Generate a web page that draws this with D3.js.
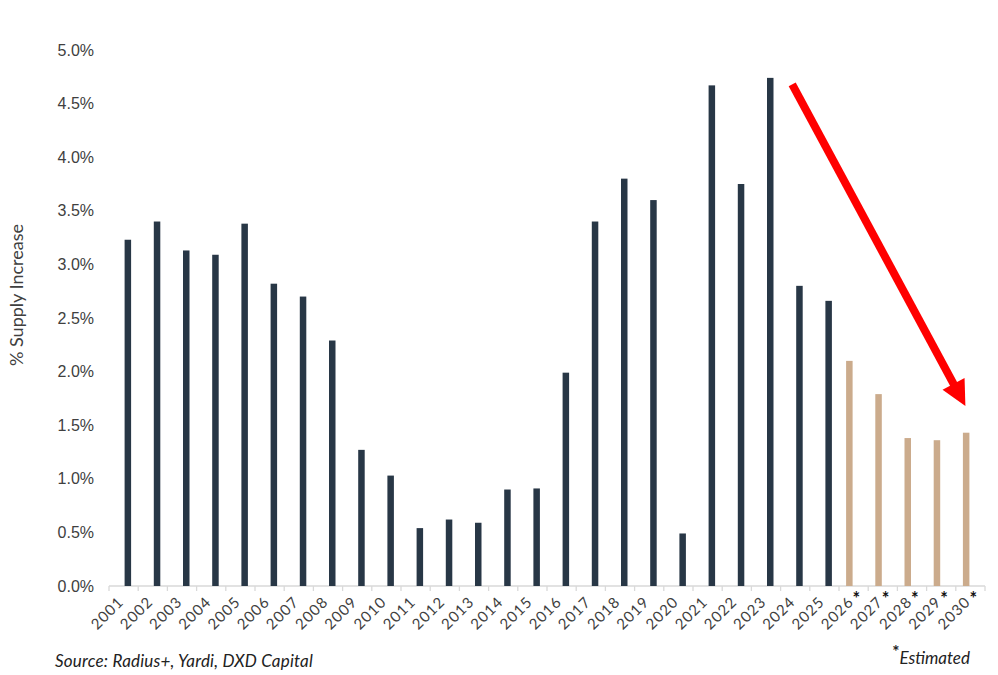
<!DOCTYPE html>
<html>
<head>
<meta charset="utf-8">
<script src="https://cdn.jsdelivr.net/npm/d3@7"></script>
<style>
  html, body { margin: 0; padding: 0; background: #fff; }
  svg { display: block; font-family: Lato, 'Open Sans', sans-serif; }
</style>
</head>
<body>
<div id="chart"></div>
<script>
// values (% supply increase per year)
const actualYears = ['2001', '2002', '2003', '2004', '2005', '2006', '2007', '2008', '2009', '2010',
  '2011', '2012', '2013', '2014', '2015', '2016', '2017', '2018', '2019', '2020',
  '2021', '2022', '2023', '2024', '2025'];
const actualValues = [3.23, 3.40, 3.13, 3.09, 3.38, 2.82, 2.70, 2.29, 1.27, 1.03,
  0.54, 0.62, 0.59, 0.90, 0.91, 1.99, 3.40, 3.80, 3.60, 0.49,
  4.67, 3.75, 4.74, 2.80, 2.66];
const estimatedYears = ['2026', '2027', '2028', '2029', '2030'];
const estimatedValues = [2.10, 1.79, 1.38, 1.36, 1.43];
const yTicks = [0, 0.5, 1.0, 1.5, 2.0, 2.5, 3.0, 3.5, 4.0, 4.5, 5.0];
const allYears = actualYears.concat(estimatedYears);

const W = 998, H = 675;
const margin = {top: 50, right: 13, bottom: 89, left: 109};
const width = W - margin.left - margin.right;
const height = H - margin.top - margin.bottom;

const svg = d3.select('#chart').append('svg')
  .attr('width', W)
  .attr('height', H);

const g = svg.append('g')
  .attr('transform', `translate(${margin.left},${margin.top})`);

const x = d3.scaleBand().domain(allYears).range([0, width]).padding(0);
const bw = x.bandwidth();
// two series side by side in each band (estimate slot left, actual slot right)
const xSub = d3.scaleBand().domain(['estimated', 'actual'])
  .range([bw / 2 - 7.5, bw / 2 + 7.5]).paddingInner(0.235);
const y = d3.scaleLinear().domain([0, 5]).range([height, 0]);

// y axis (labels only)
const yAxis = g.append('g')
  .call(d3.axisLeft(y).tickValues(yTicks).tickFormat(d => d.toFixed(1) + '%').tickSize(0).tickPadding(15));
yAxis.select('.domain').remove();
yAxis.selectAll('text')
  .attr('fill', '#404040')
  .style('font-size', '16px');

// y title
svg.append('text')
  .attr('transform', `translate(23, ${margin.top + 245}) rotate(-90)`)
  .attr('text-anchor', 'middle')
  .attr('fill', '#404040')
  .style('font-size', '18px')
  .text('% Supply Increase');

// x axis line + ticks at band edges
const xAxisG = g.append('g').attr('transform', `translate(0,${height})`);
xAxisG.append('line')
  .attr('x1', 0).attr('x2', width)
  .attr('y1', 0).attr('y2', 0)
  .attr('stroke', '#d9d9d9').attr('stroke-width', 1.3);
xAxisG.selectAll('.tk')
  .data(allYears.concat(['end']))
  .join('line')
  .attr('class', 'tk')
  .attr('x1', d => d === 'end' ? width : x(d))
  .attr('x2', d => d === 'end' ? width : x(d))
  .attr('y1', 0).attr('y2', 5)
  .attr('stroke', '#d9d9d9').attr('stroke-width', 1.3);

// bars
g.selectAll('.bar-actual')
  .data(actualYears.map((d, i) => ({year: d, value: actualValues[i]})))
  .join('rect')
  .attr('class', 'bar-actual')
  .attr('x', d => x(d.year) + xSub('actual'))
  .attr('width', xSub.bandwidth())
  .attr('y', d => y(d.value))
  .attr('height', d => y(0) - y(d.value))
  .attr('fill', '#283746');

g.selectAll('.bar-est')
  .data(estimatedYears.map((d, i) => ({year: d, value: estimatedValues[i]})))
  .join('rect')
  .attr('class', 'bar-est')
  .attr('x', d => x(d.year) + xSub('estimated'))
  .attr('width', xSub.bandwidth())
  .attr('y', d => y(d.value))
  .attr('height', d => y(0) - y(d.value))
  .attr('fill', '#CBAB8C');

// x labels, rotated
const xl = g.append('g').attr('transform', `translate(0,${height})`);
xl.selectAll('.xlab')
  .data(allYears)
  .join('text')
  .attr('class', 'xlab')
  .attr('transform', d => `translate(${x(d) + bw / 2 + 1},${17}) rotate(-45)`)
  .attr('text-anchor', 'end')
  .attr('fill', '#404040')
  .style('font-size', '15px')
  .style('letter-spacing', '1px')
  .text(d => d);

// asterisks on estimated years
xl.selectAll('.ast')
  .data(estimatedYears)
  .join('text')
  .attr('class', 'ast')
  .attr('x', d => x(d) + bw / 2 - 1)
  .attr('y', 19)
  .attr('fill', '#111')
  .style('font-size', '18px')
  .style('font-weight', 'bold')
  .text('*');

// red trend arrow, placed in data terms (2024 -> 2030)
const ax1 = x('2024') + bw / 2 - 3, ay1 = y(4.68);
const ax2 = x('2030') + bw / 2 - 5, ay2 = y(1.68);
const ang = Math.atan2(ay2 - ay1, ax2 - ax1);
const headLen = 25, headHalf = 12.5;
const bx = ax2 - headLen * Math.cos(ang), by = ay2 - headLen * Math.sin(ang);
g.append('line')
  .attr('x1', ax1).attr('y1', ay1)
  .attr('x2', bx + 2 * Math.cos(ang)).attr('y2', by + 2 * Math.sin(ang))
  .attr('stroke', '#ff0000')
  .attr('stroke-width', 8);
g.append('path')
  .attr('d', d3.line()([
    [ax2, ay2],
    [bx + headHalf * Math.sin(ang), by - headHalf * Math.cos(ang)],
    [bx - headHalf * Math.sin(ang), by + headHalf * Math.cos(ang)]
  ]) + 'Z')
  .attr('fill', '#ff0000');

// footer notes
svg.append('text')
  .attr('x', 55).attr('y', 667)
  .attr('fill', '#222')
  .style('font-size', '17px')
  .style('font-style', 'italic')
  .style('letter-spacing', '0.2px')
  .text('Source: Radius+, Yardi, DXD Capital');

const est = svg.append('text')
  .attr('x', 970).attr('y', 664)
  .attr('text-anchor', 'end')
  .attr('fill', '#222')
  .style('font-size', '17px')
  .style('font-style', 'italic');
est.append('tspan')
  .attr('dy', -6)
  .style('font-size', '17px')
  .style('font-style', 'normal')
  .style('font-weight', 'bold')
  .text('*');
est.append('tspan')
  .attr('dy', 6)
  .text('Estimated');
</script>
</body>
</html>
